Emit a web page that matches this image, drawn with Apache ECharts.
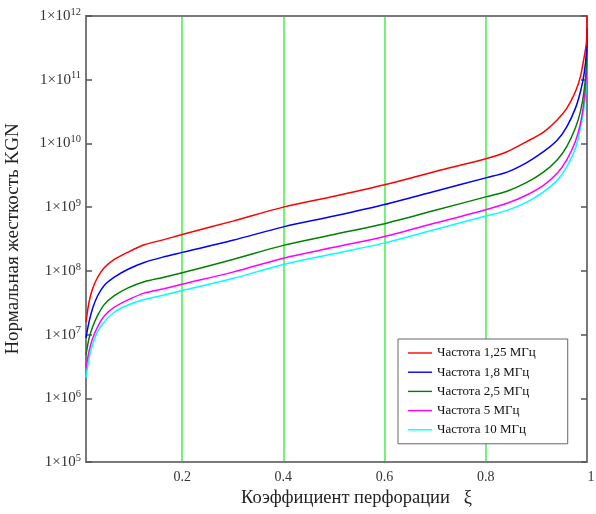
<!DOCTYPE html>
<html>
<head>
<meta charset="utf-8">
<script src="https://cdn.jsdelivr.net/npm/echarts@6/dist/echarts.min.js"></script>
<style>html,body{margin:0;padding:0;background:#fff}#c{width:596px;height:514px}</style>
</head>
<body>
<div id="c"></div>
<script>
const xi = [0.01, 0.016, 0.023, 0.033, 0.046, 0.066, 0.092, 0.125, 0.164, 0.2, 0.3, 0.4, 0.5, 0.6, 0.7, 0.8, 0.842, 0.881, 0.914, 0.941, 0.96, 0.977, 0.987, 0.994, 0.999, 1.0];
const f125 = [1.58e7, 3.24e7, 5.25e7, 7.94e7, 1.12e8, 1.51e8, 1.95e8, 2.57e8, 3.09e8, 3.72e8, 6.03e8, 1.0e9, 1.48e9, 2.24e9, 3.63e9, 5.75e9, 7.41e9, 1.07e10, 1.51e10, 2.34e10, 3.55e10, 6.46e10, 1.12e11, 2.19e11, 3.98e11, 1.0e12];
const f18 = [8.9e6, 1.58e7, 2.57e7, 4.07e7, 5.89e7, 7.94e7, 1.05e8, 1.35e8, 1.66e8, 1.95e8, 3.02e8, 4.9e8, 7.24e8, 1.1e9, 1.78e9, 2.88e9, 3.55e9, 5.01e9, 7.41e9, 1.12e10, 1.82e10, 3.55e10, 6.46e10, 1.2e11, 2.75e11, 6.46e11];
const f25 = [4.79e6, 8.71e6, 1.32e7, 2.0e7, 2.95e7, 4.07e7, 5.37e7, 6.76e7, 7.94e7, 9.33e7, 1.51e8, 2.51e8, 3.72e8, 5.5e8, 8.91e8, 1.45e9, 1.78e9, 2.45e9, 3.55e9, 5.5e9, 8.91e9, 1.74e10, 3.16e10, 6.46e10, 1.7e11, 4.47e11];
const f5 = [3.02e6, 5.5e6, 8.71e6, 1.32e7, 1.95e7, 2.69e7, 3.47e7, 4.47e7, 5.25e7, 6.17e7, 9.55e7, 1.58e8, 2.34e8, 3.47e8, 5.62e8, 9.12e8, 1.15e9, 1.55e9, 2.19e9, 3.39e9, 5.5e9, 1.07e10, 2.04e10, 4.57e10, 1.2e11, 3.55e11];
const f10 = [2.09e6, 4.27e6, 6.92e6, 1.12e7, 1.58e7, 2.24e7, 2.88e7, 3.55e7, 4.17e7, 4.9e7, 7.59e7, 1.26e8, 1.86e8, 2.75e8, 4.47e8, 7.24e8, 8.91e8, 1.2e9, 1.74e9, 2.63e9, 4.27e9, 8.32e9, 1.74e10, 3.55e10, 9.33e10, 2.75e11];
const seriesNames = ['Частота 1,25 МГц', 'Частота 1,8 МГц', 'Частота 2,5 МГц', 'Частота 5 МГц', 'Частота 10 МГц'];
const seriesColors = ['#ff0000', '#0000ff', '#008000', '#ff00ff', '#00ffff'];
const xTickValues = [0.2, 0.4, 0.6, 0.8];
const xLabelValues = [0.2, 0.4, 0.6, 0.8, 1];
const xMin = 0.01, xMax = 1;
const yMin = 1e5, yMax = 1e12;

const allData = [f125, f18, f25, f5, f10];
const serif = '"Liberation Serif", "DejaVu Serif", serif';
const axisColor = '#7a7a7a';

const chart = echarts.init(document.getElementById('c'));
chart.setOption({
  animation: false,
  backgroundColor: '#fff',
  grid: { left: 86, right: 9, top: 16, bottom: 52, outerBoundsMode: 'none', containLabel: false },
  legend: {
    orient: 'vertical',
    left: 398, top: 339,
    padding: [7, 32, 7, 10],
    itemWidth: 24, itemHeight: 14, itemGap: 5.2,
    icon: 'path://M0,0 M24,14 M0,6.3 L24,6.3 L24,7.7 L0,7.7 Z',
    backgroundColor: '#fff',
    borderColor: '#666', borderWidth: 1,
    textStyle: { fontFamily: serif, fontSize: 13, color: '#111' },
    data: seriesNames
  },
  xAxis: [{
    type: 'value', min: xMin, max: xMax, position: 'bottom',
    name: 'Коэффициент перфорации   ξ', nameLocation: 'middle', nameGap: 21,
    nameTextStyle: { fontFamily: serif, fontSize: 18.5, color: '#222', padding: [0, 0, 0, 40] },
    axisLine: { show: true, onZero: false, lineStyle: { color: axisColor, width: 2 } },
    axisTick: { show: false, customValues: xTickValues },
    axisLabel: {
      customValues: xLabelValues, margin: 8,
      fontFamily: serif, fontSize: 14, color: '#333',
      formatter: v => v === 1 ? '{one|1}' : v.toFixed(1),
      rich: { one: { fontFamily: serif, fontSize: 14, color: '#333', padding: [0, 0, 0, 8] } }
    },
    splitLine: { show: true, lineStyle: { color: '#44ee44', width: 1.5 } }
  }, {
    type: 'value', min: xMin, max: xMax, position: 'top',
    axisLine: { show: true, onZero: false, lineStyle: { color: axisColor, width: 2 } },
    axisTick: { show: false }, axisLabel: { show: false }, splitLine: { show: false }
  }],
  yAxis: [{
    type: 'log', logBase: 10, min: yMin, max: yMax, position: 'left',
    name: 'Нормальная жесткость KGN', nameLocation: 'middle', nameGap: 63,
    nameTextStyle: { fontFamily: serif, fontSize: 19, color: '#222' },
    axisLine: { show: true, onZero: false, lineStyle: { color: axisColor, width: 2 } },
    axisTick: { show: true, inside: true, length: 6, lineStyle: { color: '#555', width: 1.5 } },
    axisLabel: {
      margin: 5,
      formatter: v => '{b|1×10}{s|' + Math.round(Math.log10(v)) + '}',
      rich: {
        b: { fontFamily: serif, fontSize: 15, color: '#333' },
        s: { fontFamily: serif, fontSize: 10.5, color: '#333', padding: [0, 0, 8, 0] }
      }
    },
    splitLine: { show: false }
  }, {
    type: 'log', logBase: 10, min: yMin, max: yMax, position: 'right',
    axisLine: { show: true, onZero: false, lineStyle: { color: axisColor, width: 2 } },
    axisTick: { show: true, inside: true, length: 6, lineStyle: { color: '#555', width: 1.5 } },
    axisLabel: { show: false }, splitLine: { show: false }
  }],
  series: allData.map((arr, i) => ({
    name: seriesNames[i],
    type: 'line',
    xAxisIndex: 0, yAxisIndex: 0,
    data: xi.map((x, j) => [x, arr[j]]),
    showSymbol: false, symbol: 'none',
    smooth: 0.3,
    clip: true,
    lineStyle: { color: seriesColors[i], width: 1.5 },
    itemStyle: { color: seriesColors[i] },
    z: 10 - i
  }))
});
</script>
</body>
</html>
